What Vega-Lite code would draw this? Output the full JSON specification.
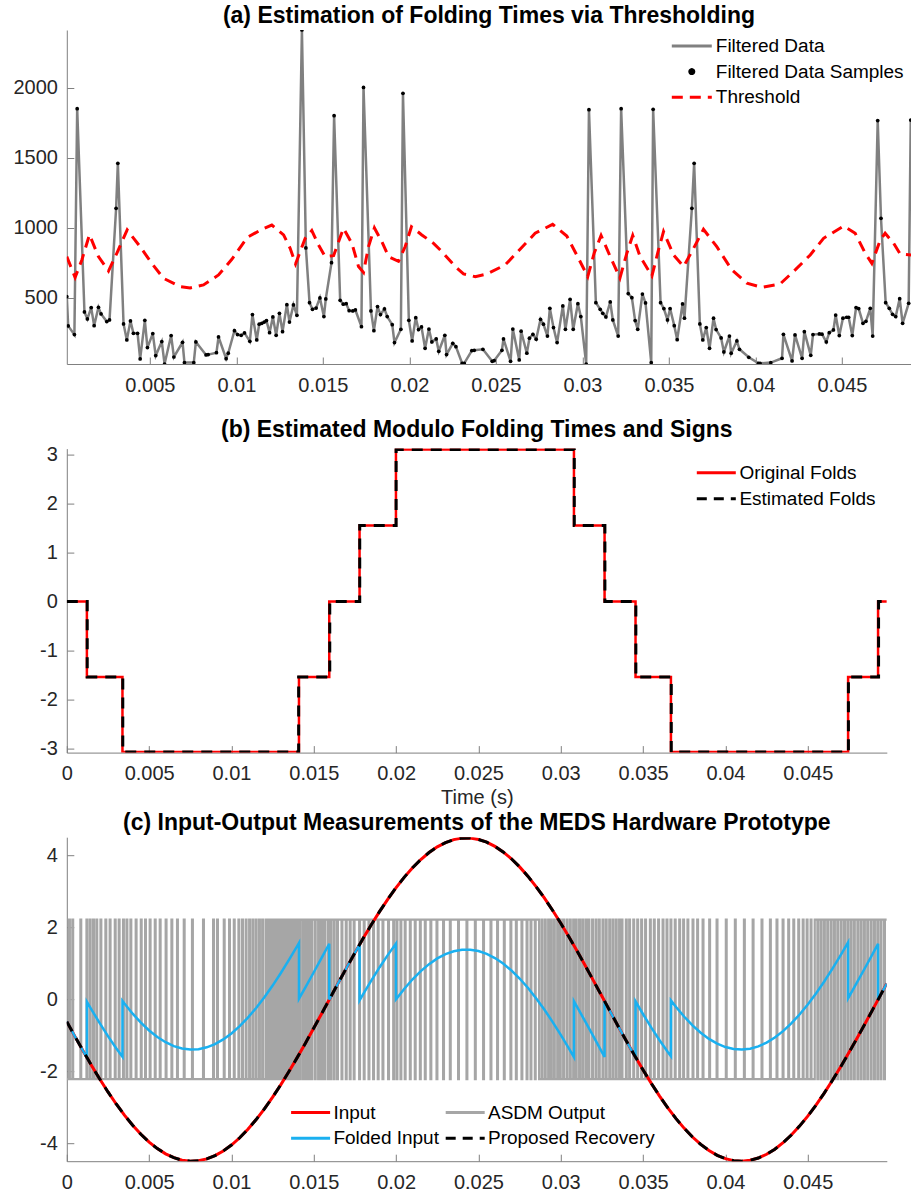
{
"$schema": "https://vega.github.io/schema/vega-lite/v6.json",
"background": "white",
"padding": {"left": 12.8, "top": 5, "right": 0, "bottom": 0},
"spacing": 84.6,
"bounds": "flush",
"resolve": {"scale": {"color": "independent"}},
"config": {
  "font": "Liberation Sans",
  "view": {"stroke": null},
  "axis": {"grid": false, "domainColor": "#808080", "domainWidth": 1, "tickColor": "#808080", "tickWidth": 1, "tickSize": -7, "labelFontSize": 20, "labelColor": "#262626", "labelFlush": false, "labelOverlap": false, "titleFontSize": 20, "titleFontWeight": "normal", "titleColor": "#262626"},
  "axisX": {"labelPadding": 18},
  "axisY": {"labelPadding": 16.4},
  "title": {"fontSize": 23, "fontWeight": "bold", "color": "#000000", "offset": 2},
  "legend": {"labelFontSize": 19, "labelColor": "#000000", "padding": 0, "symbolStrokeWidth": 3, "labelLimit": 0}
},
"datasets": {
"fd": [{"t":0.0002,"v":507},{"t":0.00028,"v":298},{"t":0.00064,"v":236},{"t":0.0008,"v":1850},{"t":0.00122,"v":398},{"t":0.00139,"v":348},{"t":0.00161,"v":429},{"t":0.00178,"v":300},{"t":0.00203,"v":431},{"t":0.00218,"v":384},{"t":0.00251,"v":329},{"t":0.00267,"v":341},{"t":0.00305,"v":1138},{"t":0.00315,"v":1460},{"t":0.00348,"v":312},{"t":0.00367,"v":198},{"t":0.00388,"v":334},{"t":0.00405,"v":245},{"t":0.00429,"v":245},{"t":0.00444,"v":62},{"t":0.00471,"v":338},{"t":0.00486,"v":143},{"t":0.00517,"v":243},{"t":0.00534,"v":86},{"t":0.00569,"v":186},{"t":0.00585,"v":26},{"t":0.00623,"v":229},{"t":0.00639,"v":76},{"t":0.00689,"v":181},{"t":0.007,"v":36},{"t":0.00754,"v":36},{"t":0.00766,"v":184},{"t":0.00825,"v":91},{"t":0.00837,"v":93},{"t":0.00885,"v":107},{"t":0.00897,"v":219},{"t":0.00941,"v":64},{"t":0.00953,"v":103},{"t":0.00989,"v":264},{"t":0.01007,"v":236},{"t":0.01028,"v":231},{"t":0.01047,"v":248},{"t":0.01078,"v":188},{"t":0.01093,"v":379},{"t":0.01118,"v":198},{"t":0.01132,"v":310},{"t":0.01147,"v":317},{"t":0.01161,"v":326},{"t":0.01174,"v":336},{"t":0.01192,"v":250},{"t":0.01211,"v":362},{"t":0.0123,"v":231},{"t":0.01249,"v":388},{"t":0.01267,"v":257},{"t":0.01292,"v":450},{"t":0.01307,"v":326},{"t":0.0133,"v":448},{"t":0.0135,"v":374},{"t":0.01379,"v":2412},{"t":0.01402,"v":855},{"t":0.01423,"v":464},{"t":0.0144,"v":417},{"t":0.01461,"v":426},{"t":0.01483,"v":498},{"t":0.01506,"v":365},{"t":0.01517,"v":491},{"t":0.0155,"v":750},{"t":0.01565,"v":1800},{"t":0.016,"v":481},{"t":0.01618,"v":453},{"t":0.01635,"v":457},{"t":0.01652,"v":407},{"t":0.01673,"v":405},{"t":0.01688,"v":412},{"t":0.01723,"v":293},{"t":0.01735,"v":2002},{"t":0.01778,"v":405},{"t":0.01795,"v":264},{"t":0.01816,"v":436},{"t":0.01833,"v":379},{"t":0.01856,"v":419},{"t":0.01872,"v":365},{"t":0.01901,"v":307},{"t":0.01914,"v":179},{"t":0.01951,"v":274},{"t":0.01963,"v":1960},{"t":0.01997,"v":338},{"t":0.02016,"v":191},{"t":0.02037,"v":357},{"t":0.02053,"v":272},{"t":0.0207,"v":291},{"t":0.02091,"v":138},{"t":0.02113,"v":276},{"t":0.0213,"v":184},{"t":0.02155,"v":205},{"t":0.0217,"v":117},{"t":0.02205,"v":231},{"t":0.02215,"v":93},{"t":0.02251,"v":174},{"t":0.02269,"v":150},{"t":0.02305,"v":31},{"t":0.02317,"v":31},{"t":0.02361,"v":122},{"t":0.02375,"v":124},{"t":0.02425,"v":131},{"t":0.02479,"v":45},{"t":0.0249,"v":50},{"t":0.02535,"v":124},{"t":0.02544,"v":205},{"t":0.02585,"v":45},{"t":0.02598,"v":276},{"t":0.02635,"v":55},{"t":0.02646,"v":260},{"t":0.02679,"v":103},{"t":0.02694,"v":210},{"t":0.02714,"v":238},{"t":0.02733,"v":203},{"t":0.02758,"v":345},{"t":0.02775,"v":310},{"t":0.02798,"v":226},{"t":0.02812,"v":424},{"t":0.02833,"v":286},{"t":0.02854,"v":179},{"t":0.02887,"v":441},{"t":0.02902,"v":274},{"t":0.02929,"v":488},{"t":0.02947,"v":274},{"t":0.02974,"v":457},{"t":0.02991,"v":365},{"t":0.03022,"v":26},{"t":0.03038,"v":1843},{"t":0.03078,"v":464},{"t":0.03103,"v":417},{"t":0.03118,"v":388},{"t":0.03136,"v":362},{"t":0.03161,"v":469},{"t":0.03176,"v":341},{"t":0.03207,"v":226},{"t":0.03224,"v":1850},{"t":0.03265,"v":529},{"t":0.03286,"v":500},{"t":0.03305,"v":336},{"t":0.0332,"v":274},{"t":0.03347,"v":526},{"t":0.03365,"v":462},{"t":0.03398,"v":36},{"t":0.03409,"v":1845},{"t":0.03452,"v":464},{"t":0.03471,"v":422},{"t":0.03492,"v":341},{"t":0.03507,"v":422},{"t":0.03531,"v":300},{"t":0.03548,"v":200},{"t":0.03579,"v":455},{"t":0.0359,"v":353},{"t":0.03633,"v":1138},{"t":0.03646,"v":1460},{"t":0.03679,"v":312},{"t":0.03696,"v":198},{"t":0.03716,"v":286},{"t":0.03735,"v":138},{"t":0.03758,"v":353},{"t":0.03773,"v":272},{"t":0.03802,"v":212},{"t":0.03818,"v":112},{"t":0.0385,"v":226},{"t":0.0386,"v":103},{"t":0.03893,"v":191},{"t":0.03908,"v":131},{"t":0.03962,"v":74},{"t":0.04018,"v":31},{"t":0.04027,"v":31},{"t":0.04089,"v":36},{"t":0.04154,"v":67},{"t":0.04162,"v":238},{"t":0.04212,"v":48},{"t":0.04229,"v":234},{"t":0.0427,"v":67},{"t":0.04283,"v":257},{"t":0.0432,"v":88},{"t":0.04333,"v":236},{"t":0.0437,"v":241},{"t":0.04385,"v":239},{"t":0.0441,"v":184},{"t":0.04427,"v":250},{"t":0.04451,"v":269},{"t":0.04464,"v":376},{"t":0.04485,"v":229},{"t":0.04506,"v":353},{"t":0.04528,"v":360},{"t":0.04539,"v":360},{"t":0.0456,"v":229},{"t":0.04582,"v":429},{"t":0.04597,"v":422},{"t":0.04622,"v":317},{"t":0.04639,"v":331},{"t":0.04664,"v":424},{"t":0.04678,"v":226},{"t":0.04707,"v":1765},{"t":0.04726,"v":1067},{"t":0.04753,"v":464},{"t":0.04774,"v":424},{"t":0.04793,"v":381},{"t":0.04811,"v":365},{"t":0.04834,"v":493},{"t":0.04851,"v":317},{"t":0.04886,"v":460},{"t":0.04898,"v":1769}],
"th": [{"t":0.0002,"v":793},{"t":0.00068,"v":645},{"t":0.00107,"v":769},{"t":0.00151,"v":950},{"t":0.00203,"v":793},{"t":0.00261,"v":690},{"t":0.00309,"v":817},{"t":0.00369,"v":984},{"t":0.00444,"v":864},{"t":0.00511,"v":745},{"t":0.00579,"v":638},{"t":0.00675,"v":579},{"t":0.00733,"v":569},{"t":0.0081,"v":591},{"t":0.00897,"v":662},{"t":0.00974,"v":774},{"t":0.01064,"v":931},{"t":0.01147,"v":988},{"t":0.01205,"v":1019},{"t":0.01273,"v":948},{"t":0.01311,"v":853},{"t":0.01342,"v":741},{"t":0.01369,"v":829},{"t":0.01398,"v":924},{"t":0.01436,"v":979},{"t":0.01475,"v":876},{"t":0.01513,"v":793},{"t":0.01562,"v":800},{"t":0.01619,"v":995},{"t":0.01668,"v":888},{"t":0.01706,"v":722},{"t":0.01735,"v":680},{"t":0.01764,"v":865},{"t":0.01798,"v":998},{"t":0.01841,"v":900},{"t":0.0188,"v":793},{"t":0.01937,"v":760},{"t":0.01976,"v":865},{"t":0.02012,"v":1007},{"t":0.02072,"v":948},{"t":0.0214,"v":888},{"t":0.02188,"v":829},{"t":0.02265,"v":722},{"t":0.02313,"v":669},{"t":0.02381,"v":650},{"t":0.02448,"v":669},{"t":0.02554,"v":734},{"t":0.0264,"v":846},{"t":0.02727,"v":960},{"t":0.02828,"v":1024},{"t":0.0291,"v":940},{"t":0.02978,"v":780},{"t":0.03031,"v":650},{"t":0.03068,"v":817},{"t":0.03108,"v":945},{"t":0.03161,"v":793},{"t":0.03217,"v":640},{"t":0.03257,"v":817},{"t":0.03291,"v":945},{"t":0.03334,"v":793},{"t":0.03402,"v":655},{"t":0.0344,"v":841},{"t":0.03469,"v":972},{"t":0.03527,"v":805},{"t":0.03585,"v":722},{"t":0.03643,"v":853},{"t":0.037,"v":988},{"t":0.03777,"v":864},{"t":0.03864,"v":698},{"t":0.03951,"v":603},{"t":0.04037,"v":574},{"t":0.04143,"v":598},{"t":0.0423,"v":698},{"t":0.04317,"v":805},{"t":0.04394,"v":924},{"t":0.0451,"v":1012},{"t":0.04577,"v":960},{"t":0.04635,"v":817},{"t":0.04673,"v":745},{"t":0.04722,"v":912},{"t":0.0475,"v":960},{"t":0.04799,"v":888},{"t":0.04837,"v":812},{"t":0.049,"v":805}],
"orig": [{"t":0,"v":0},{"t":0.00122,"v":-1.54},{"t":0.00338,"v":-3.07},{"t":0.0141,"v":-1.54},{"t":0.01594,"v":0},{"t":0.01778,"v":1.55},{"t":0.01999,"v":3.1},{"t":0.0308,"v":1.55},{"t":0.03266,"v":0},{"t":0.03454,"v":-1.54},{"t":0.03669,"v":-3.07},{"t":0.04745,"v":-1.54},{"t":0.04927,"v":0},{"t":0.0498,"v":0}],
"est": [{"t":0,"v":0},{"t":0.00124,"v":-1.54},{"t":0.0034,"v":-3.07},{"t":0.01408,"v":-1.54},{"t":0.01597,"v":0},{"t":0.01779,"v":1.55},{"t":0.02,"v":3.1},{"t":0.03082,"v":1.55},{"t":0.03268,"v":0},{"t":0.03456,"v":-1.54},{"t":0.03671,"v":-3.07},{"t":0.04747,"v":-1.54},{"t":0.0493,"v":0},{"t":0.0499,"v":0}],
"sine": [{"t":0,"v":-0.613},{"t":0.0005,"v":-1.029},{"t":0.001,"v":-1.436},{"t":0.0015,"v":-1.83},{"t":0.002,"v":-2.207},{"t":0.0025,"v":-2.566},{"t":0.003,"v":-2.901},{"t":0.0035,"v":-3.211},{"t":0.004,"v":-3.492},{"t":0.0045,"v":-3.742},{"t":0.005,"v":-3.959},{"t":0.0055,"v":-4.141},{"t":0.006,"v":-4.286},{"t":0.0065,"v":-4.393},{"t":0.007,"v":-4.461},{"t":0.0075,"v":-4.489},{"t":0.008,"v":-4.478},{"t":0.0085,"v":-4.426},{"t":0.009,"v":-4.336},{"t":0.0095,"v":-4.207},{"t":0.01,"v":-4.041},{"t":0.0105,"v":-3.839},{"t":0.011,"v":-3.601},{"t":0.0115,"v":-3.333},{"t":0.012,"v":-3.037},{"t":0.0125,"v":-2.712},{"t":0.013,"v":-2.363},{"t":0.0135,"v":-1.993},{"t":0.014,"v":-1.606},{"t":0.0145,"v":-1.204},{"t":0.015,"v":-0.791},{"t":0.0155,"v":-0.372},{"t":0.016,"v":0.051},{"t":0.0165,"v":0.473},{"t":0.017,"v":0.891},{"t":0.0175,"v":1.301},{"t":0.018,"v":1.7},{"t":0.0185,"v":2.083},{"t":0.019,"v":2.449},{"t":0.0195,"v":2.792},{"t":0.02,"v":3.11},{"t":0.0205,"v":3.402},{"t":0.021,"v":3.663},{"t":0.0215,"v":3.891},{"t":0.022,"v":4.084},{"t":0.0225,"v":4.242},{"t":0.023,"v":4.361},{"t":0.0235,"v":4.442},{"t":0.024,"v":4.484},{"t":0.0245,"v":4.486},{"t":0.025,"v":4.448},{"t":0.0255,"v":4.371},{"t":0.026,"v":4.254},{"t":0.0265,"v":4.1},{"t":0.027,"v":3.91},{"t":0.0275,"v":3.685},{"t":0.028,"v":3.427},{"t":0.0285,"v":3.138},{"t":0.029,"v":2.822},{"t":0.0295,"v":2.481},{"t":0.03,"v":2.118},{"t":0.0305,"v":1.736},{"t":0.031,"v":1.339},{"t":0.0315,"v":0.93},{"t":0.032,"v":0.512},{"t":0.0325,"v":0.09},{"t":0.033,"v":-0.333},{"t":0.0335,"v":-0.753},{"t":0.034,"v":-1.166},{"t":0.0345,"v":-1.569},{"t":0.035,"v":-1.958},{"t":0.0355,"v":-2.329},{"t":0.036,"v":-2.68},{"t":0.0365,"v":-3.007},{"t":0.037,"v":-3.307},{"t":0.0375,"v":-3.578},{"t":0.038,"v":-3.818},{"t":0.0385,"v":-4.023},{"t":0.039,"v":-4.193},{"t":0.0395,"v":-4.326},{"t":0.04,"v":-4.42},{"t":0.0405,"v":-4.475},{"t":0.041,"v":-4.49},{"t":0.0415,"v":-4.465},{"t":0.042,"v":-4.401},{"t":0.0425,"v":-4.297},{"t":0.043,"v":-4.156},{"t":0.0435,"v":-3.977},{"t":0.044,"v":-3.763},{"t":0.0445,"v":-3.516},{"t":0.045,"v":-3.239},{"t":0.0455,"v":-2.931},{"t":0.046,"v":-2.598},{"t":0.0465,"v":-2.241},{"t":0.047,"v":-1.866},{"t":0.0475,"v":-1.473},{"t":0.048,"v":-1.067},{"t":0.0485,"v":-0.652},{"t":0.049,"v":-0.231},{"t":0.0495,"v":0.192},{"t":0.0498,"v":0.445}],
"fold": [{"t":0,"v":-0.613},{"t":0.0005,"v":-1.029},{"t":0.001,"v":-1.436},{"t":0.00122,"v":-1.611},{"t":0.001221,"v":-0.061},{"t":0.0015,"v":-0.28},{"t":0.002,"v":-0.657},{"t":0.0025,"v":-1.016},{"t":0.003,"v":-1.351},{"t":0.00338,"v":-1.588},{"t":0.003381,"v":-0.038},{"t":0.0035,"v":-0.111},{"t":0.004,"v":-0.392},{"t":0.0045,"v":-0.642},{"t":0.005,"v":-0.859},{"t":0.0055,"v":-1.041},{"t":0.006,"v":-1.186},{"t":0.0065,"v":-1.293},{"t":0.007,"v":-1.361},{"t":0.0075,"v":-1.389},{"t":0.008,"v":-1.378},{"t":0.0085,"v":-1.326},{"t":0.009,"v":-1.236},{"t":0.0095,"v":-1.107},{"t":0.01,"v":-0.941},{"t":0.0105,"v":-0.739},{"t":0.011,"v":-0.501},{"t":0.0115,"v":-0.233},{"t":0.012,"v":0.063},{"t":0.0125,"v":0.388},{"t":0.013,"v":0.737},{"t":0.0135,"v":1.107},{"t":0.014,"v":1.494},{"t":0.0141,"v":1.574},{"t":0.014101,"v":0.024},{"t":0.0145,"v":0.346},{"t":0.015,"v":0.759},{"t":0.0155,"v":1.178},{"t":0.01594,"v":1.55},{"t":0.015941,"v":0},{"t":0.016,"v":0.051},{"t":0.0165,"v":0.473},{"t":0.017,"v":0.891},{"t":0.0175,"v":1.301},{"t":0.01778,"v":1.526},{"t":0.017781,"v":-0.024},{"t":0.018,"v":0.15},{"t":0.0185,"v":0.533},{"t":0.019,"v":0.899},{"t":0.0195,"v":1.242},{"t":0.01999,"v":1.555},{"t":0.019991,"v":0.005},{"t":0.02,"v":0.01},{"t":0.0205,"v":0.302},{"t":0.021,"v":0.563},{"t":0.0215,"v":0.791},{"t":0.022,"v":0.984},{"t":0.0225,"v":1.142},{"t":0.023,"v":1.261},{"t":0.0235,"v":1.342},{"t":0.024,"v":1.384},{"t":0.0245,"v":1.386},{"t":0.025,"v":1.348},{"t":0.0255,"v":1.271},{"t":0.026,"v":1.154},{"t":0.0265,"v":1.0},{"t":0.027,"v":0.81},{"t":0.0275,"v":0.585},{"t":0.028,"v":0.327},{"t":0.0285,"v":0.038},{"t":0.029,"v":-0.278},{"t":0.0295,"v":-0.619},{"t":0.03,"v":-0.982},{"t":0.0305,"v":-1.364},{"t":0.0308,"v":-1.6},{"t":0.030801,"v":-0.05},{"t":0.031,"v":-0.211},{"t":0.0315,"v":-0.62},{"t":0.032,"v":-1.038},{"t":0.0325,"v":-1.46},{"t":0.03266,"v":-1.595},{"t":0.032661,"v":-0.045},{"t":0.033,"v":-0.333},{"t":0.0335,"v":-0.753},{"t":0.034,"v":-1.166},{"t":0.0345,"v":-1.569},{"t":0.03454,"v":-1.6},{"t":0.034541,"v":-0.05},{"t":0.035,"v":-0.408},{"t":0.0355,"v":-0.779},{"t":0.036,"v":-1.13},{"t":0.0365,"v":-1.457},{"t":0.03669,"v":-1.575},{"t":0.036691,"v":-0.025},{"t":0.037,"v":-0.207},{"t":0.0375,"v":-0.478},{"t":0.038,"v":-0.718},{"t":0.0385,"v":-0.923},{"t":0.039,"v":-1.093},{"t":0.0395,"v":-1.226},{"t":0.04,"v":-1.32},{"t":0.0405,"v":-1.375},{"t":0.041,"v":-1.39},{"t":0.0415,"v":-1.365},{"t":0.042,"v":-1.301},{"t":0.0425,"v":-1.197},{"t":0.043,"v":-1.056},{"t":0.0435,"v":-0.877},{"t":0.044,"v":-0.663},{"t":0.0445,"v":-0.416},{"t":0.045,"v":-0.139},{"t":0.0455,"v":0.169},{"t":0.046,"v":0.502},{"t":0.0465,"v":0.859},{"t":0.047,"v":1.234},{"t":0.04745,"v":1.587},{"t":0.047451,"v":0.037},{"t":0.0475,"v":0.077},{"t":0.048,"v":0.483},{"t":0.0485,"v":0.898},{"t":0.049,"v":1.319},{"t":0.04927,"v":1.55},{"t":0.049271,"v":0},{"t":0.0495,"v":0.192},{"t":0.0498,"v":0.445}],
"asdm": [{"t":0,"v":-2.21},
{"t":0.000135,"v":2.22},{"t":0.000185,"v":-2.21},{"t":0.000335,"v":2.22},{"t":0.000385,"v":-2.21},{"t":0.000825,"v":2.22},{"t":0.000875,"v":-2.21},{"t":0.001195,"v":2.22},{"t":0.001245,"v":-2.21},{"t":0.001395,"v":2.22},{"t":0.001445,"v":-2.21},{"t":0.001595,"v":2.22},{"t":0.001645,"v":-2.21},{"t":0.001795,"v":2.22},{"t":0.001845,"v":-2.21},{"t":0.002045,"v":2.22},{"t":0.002095,"v":-2.21},{"t":0.002345,"v":2.22},{"t":0.002395,"v":-2.21},{"t":0.002605,"v":2.22},{"t":0.002655,"v":-2.21},{"t":0.002915,"v":2.22},{"t":0.002965,"v":-2.21},{"t":0.003155,"v":2.22},{"t":0.003205,"v":-2.21},{"t":0.003415,"v":2.22},{"t":0.003465,"v":-2.21},{"t":0.003625,"v":2.22},{"t":0.003675,"v":-2.21},{"t":0.003865,"v":2.22},{"t":0.003915,"v":-2.21},{"t":0.004185,"v":2.22},{"t":0.004235,"v":-2.21},{"t":0.004495,"v":2.22},{"t":0.004545,"v":-2.21},{"t":0.004755,"v":2.22},{"t":0.004805,"v":-2.21},{"t":0.005035,"v":2.22},{"t":0.005085,"v":-2.21},{"t":0.005345,"v":2.22},{"t":0.005395,"v":-2.21},{"t":0.005645,"v":2.22},{"t":0.005695,"v":-2.21},{"t":0.006005,"v":2.22},{"t":0.006055,"v":-2.21},{"t":0.006355,"v":2.22},{"t":0.006405,"v":-2.21},{"t":0.006695,"v":2.22},{"t":0.006745,"v":-2.21},{"t":0.007105,"v":2.22},{"t":0.007155,"v":-2.21},{"t":0.007605,"v":2.22},{"t":0.007655,"v":-2.21},{"t":0.008275,"v":2.22},{"t":0.008325,"v":-2.21},{"t":0.008885,"v":2.22},{"t":0.008935,"v":-2.21},{"t":0.009125,"v":2.22},{"t":0.009175,"v":-2.21},{"t":0.009535,"v":2.22},{"t":0.009585,"v":-2.21},{"t":0.009855,"v":2.22},{"t":0.009905,"v":-2.21},{"t":0.010145,"v":2.22},{"t":0.010195,"v":-2.21},{"t":0.010425,"v":2.22},{"t":0.010475,"v":-2.21},{"t":0.010645,"v":2.22},{"t":0.010695,"v":-2.21},{"t":0.010865,"v":2.22},{"t":0.010915,"v":-2.21},{"t":0.011075,"v":2.22},{"t":0.011125,"v":-2.21},{"t":0.011275,"v":2.22},{"t":0.011325,"v":-2.21},{"t":0.011475,"v":2.22},{"t":0.011525,"v":-2.21},{"t":0.011675,"v":2.22},{"t":0.011725,"v":-2.21},{"t":0.011865,"v":2.22},{"t":0.011915,"v":-2.21},
{"t":0.012025,"v":-2.21},{"t":0.012075,"v":2.22},{"t":0.012165,"v":-2.21},{"t":0.012215,"v":2.22},{"t":0.012305,"v":-2.21},{"t":0.012355,"v":2.22},{"t":0.012465,"v":-2.21},{"t":0.012515,"v":2.22},{"t":0.012635,"v":-2.21},{"t":0.012685,"v":2.22},{"t":0.012795,"v":-2.21},{"t":0.012845,"v":2.22},{"t":0.012935,"v":-2.21},{"t":0.012985,"v":2.22},{"t":0.013095,"v":-2.21},{"t":0.013145,"v":2.22},{"t":0.013275,"v":-2.21},{"t":0.013325,"v":2.22},{"t":0.013445,"v":-2.21},{"t":0.013495,"v":2.22},{"t":0.013605,"v":-2.21},{"t":0.013655,"v":2.22},{"t":0.013785,"v":-2.21},{"t":0.013835,"v":2.22},{"t":0.013945,"v":-2.21},{"t":0.013995,"v":2.22},{"t":0.014125,"v":-2.21},{"t":0.014175,"v":2.22},{"t":0.014315,"v":-2.21},{"t":0.014365,"v":2.22},{"t":0.014495,"v":-2.21},{"t":0.014545,"v":2.22},{"t":0.014675,"v":-2.21},{"t":0.014725,"v":2.22},{"t":0.014855,"v":-2.21},{"t":0.014905,"v":2.22},{"t":0.015065,"v":-2.21},{"t":0.015115,"v":2.22},{"t":0.015265,"v":-2.21},{"t":0.015315,"v":2.22},{"t":0.015445,"v":-2.21},{"t":0.015495,"v":2.22},{"t":0.015625,"v":-2.21},{"t":0.015675,"v":2.22},{"t":0.015835,"v":-2.21},{"t":0.015885,"v":2.22},{"t":0.016015,"v":-2.21},{"t":0.016065,"v":2.22},{"t":0.016215,"v":-2.21},{"t":0.016265,"v":2.22},{"t":0.016415,"v":-2.21},{"t":0.016465,"v":2.22},{"t":0.016685,"v":-2.21},{"t":0.016735,"v":2.22},{"t":0.016945,"v":-2.21},{"t":0.016995,"v":2.22},{"t":0.017185,"v":-2.21},{"t":0.017235,"v":2.22},{"t":0.017425,"v":-2.21},{"t":0.017475,"v":2.22},{"t":0.017755,"v":-2.21},{"t":0.017805,"v":2.22},{"t":0.018035,"v":-2.21},{"t":0.018085,"v":2.22},{"t":0.018325,"v":-2.21},{"t":0.018375,"v":2.22},{"t":0.018605,"v":-2.21},{"t":0.018655,"v":2.22},{"t":0.018885,"v":-2.21},{"t":0.018935,"v":2.22},{"t":0.019175,"v":-2.21},{"t":0.019225,"v":2.22},{"t":0.019515,"v":-2.21},{"t":0.019565,"v":2.22},{"t":0.019825,"v":-2.21},{"t":0.019875,"v":2.22},{"t":0.020025,"v":-2.21},{"t":0.020075,"v":2.22},{"t":0.020265,"v":-2.21},{"t":0.020315,"v":2.22},{"t":0.020525,"v":-2.21},{"t":0.020575,"v":2.22},{"t":0.020835,"v":-2.21},{"t":0.020885,"v":2.22},{"t":0.021135,"v":-2.21},{"t":0.021185,"v":2.22},{"t":0.021445,"v":-2.21},{"t":0.021495,"v":2.22},{"t":0.021745,"v":-2.21},{"t":0.021795,"v":2.22},{"t":0.022085,"v":-2.21},{"t":0.022135,"v":2.22},{"t":0.022455,"v":-2.21},{"t":0.022505,"v":2.22},{"t":0.022855,"v":-2.21},{"t":0.022905,"v":2.22},{"t":0.023265,"v":-2.21},{"t":0.023315,"v":2.22},{"t":0.023765,"v":-2.21},{"t":0.023815,"v":2.22},{"t":0.024275,"v":-2.21},{"t":0.024325,"v":2.22},{"t":0.024785,"v":-2.21},{"t":0.024835,"v":2.22},{"t":0.025285,"v":-2.21},{"t":0.025335,"v":2.22},{"t":0.025735,"v":-2.21},{"t":0.025785,"v":2.22},{"t":0.026135,"v":-2.21},{"t":0.026185,"v":2.22},{"t":0.026545,"v":-2.21},{"t":0.026595,"v":2.22},{"t":0.026945,"v":-2.21},{"t":0.026995,"v":2.22},{"t":0.027275,"v":-2.21},{"t":0.027325,"v":2.22},{"t":0.027615,"v":-2.21},{"t":0.027665,"v":2.22},{"t":0.027925,"v":-2.21},{"t":0.027975,"v":2.22},{"t":0.028165,"v":-2.21},{"t":0.028215,"v":2.22},{"t":0.028425,"v":-2.21},{"t":0.028475,"v":2.22},
{"t":0.028635,"v":2.22},{"t":0.028685,"v":-2.21},{"t":0.028835,"v":2.22},{"t":0.028885,"v":-2.21},{"t":0.029035,"v":2.22},{"t":0.029085,"v":-2.21},{"t":0.029235,"v":2.22},{"t":0.029285,"v":-2.21},{"t":0.029395,"v":2.22},{"t":0.029445,"v":-2.21},{"t":0.029585,"v":2.22},{"t":0.029635,"v":-2.21},{"t":0.029785,"v":2.22},{"t":0.029835,"v":-2.21},{"t":0.029945,"v":2.22},{"t":0.029995,"v":-2.21},{"t":0.030145,"v":2.22},{"t":0.030195,"v":-2.21},{"t":0.030355,"v":2.22},{"t":0.030405,"v":-2.21},{"t":0.030555,"v":2.22},{"t":0.030605,"v":-2.21},{"t":0.030755,"v":2.22},{"t":0.030805,"v":-2.21},{"t":0.030915,"v":2.22},{"t":0.030965,"v":-2.21},{"t":0.031115,"v":2.22},{"t":0.031165,"v":-2.21},{"t":0.031305,"v":2.22},{"t":0.031355,"v":-2.21},{"t":0.031505,"v":2.22},{"t":0.031555,"v":-2.21},{"t":0.031685,"v":2.22},{"t":0.031735,"v":-2.21},{"t":0.031905,"v":2.22},{"t":0.031955,"v":-2.21},{"t":0.032115,"v":2.22},{"t":0.032165,"v":-2.21},{"t":0.032315,"v":2.22},{"t":0.032365,"v":-2.21},{"t":0.032535,"v":2.22},{"t":0.032585,"v":-2.21},{"t":0.032735,"v":2.22},{"t":0.032785,"v":-2.21},{"t":0.032945,"v":2.22},{"t":0.032995,"v":-2.21},{"t":0.033145,"v":2.22},{"t":0.033195,"v":-2.21},{"t":0.033345,"v":2.22},{"t":0.033395,"v":-2.21},{"t":0.033545,"v":2.22},{"t":0.033595,"v":-2.21},{"t":0.033695,"v":2.22},{"t":0.033745,"v":-2.21},{"t":0.033955,"v":2.22},{"t":0.034005,"v":-2.21},{"t":0.034155,"v":2.22},{"t":0.034205,"v":-2.21},{"t":0.034405,"v":2.22},{"t":0.034455,"v":-2.21},{"t":0.034645,"v":2.22},{"t":0.034695,"v":-2.21},{"t":0.034885,"v":2.22},{"t":0.034935,"v":-2.21},{"t":0.035125,"v":2.22},{"t":0.035175,"v":-2.21},{"t":0.035415,"v":2.22},{"t":0.035465,"v":-2.21},{"t":0.035655,"v":2.22},{"t":0.035705,"v":-2.21},{"t":0.035915,"v":2.22},{"t":0.035965,"v":-2.21},{"t":0.036185,"v":2.22},{"t":0.036235,"v":-2.21},{"t":0.036425,"v":2.22},{"t":0.036475,"v":-2.21},{"t":0.036665,"v":2.22},{"t":0.036715,"v":-2.21},{"t":0.036925,"v":2.22},{"t":0.036975,"v":-2.21},{"t":0.037195,"v":2.22},{"t":0.037245,"v":-2.21},{"t":0.037435,"v":2.22},{"t":0.037485,"v":-2.21},{"t":0.037695,"v":2.22},{"t":0.037745,"v":-2.21},{"t":0.038005,"v":2.22},{"t":0.038055,"v":-2.21},{"t":0.038285,"v":2.22},{"t":0.038335,"v":-2.21},{"t":0.038615,"v":2.22},{"t":0.038665,"v":-2.21},{"t":0.039015,"v":2.22},{"t":0.039065,"v":-2.21},{"t":0.039465,"v":2.22},{"t":0.039515,"v":-2.21},{"t":0.040025,"v":2.22},{"t":0.040075,"v":-2.21},{"t":0.040575,"v":2.22},{"t":0.040625,"v":-2.21},{"t":0.041125,"v":2.22},{"t":0.041175,"v":-2.21},{"t":0.041655,"v":2.22},{"t":0.041705,"v":-2.21},{"t":0.042195,"v":2.22},{"t":0.042245,"v":-2.21},{"t":0.042705,"v":2.22},{"t":0.042755,"v":-2.21},{"t":0.043105,"v":2.22},{"t":0.043155,"v":-2.21},{"t":0.043475,"v":2.22},{"t":0.043525,"v":-2.21},{"t":0.043815,"v":2.22},{"t":0.043865,"v":-2.21},{"t":0.044125,"v":2.22},{"t":0.044175,"v":-2.21},{"t":0.044425,"v":2.22},{"t":0.044475,"v":-2.21},{"t":0.044695,"v":2.22},{"t":0.044745,"v":-2.21},{"t":0.044935,"v":2.22},{"t":0.044985,"v":-2.21},{"t":0.045175,"v":2.22},{"t":0.045225,"v":-2.21},
{"t":0.045375,"v":-2.21},{"t":0.045425,"v":2.22},{"t":0.045585,"v":-2.21},{"t":0.045635,"v":2.22},{"t":0.045785,"v":-2.21},{"t":0.045835,"v":2.22},{"t":0.045985,"v":-2.21},{"t":0.046035,"v":2.22},{"t":0.046185,"v":-2.21},{"t":0.046235,"v":2.22},{"t":0.046395,"v":-2.21},{"t":0.046445,"v":2.22},{"t":0.046595,"v":-2.21},{"t":0.046645,"v":2.22},{"t":0.046795,"v":-2.21},{"t":0.046845,"v":2.22},{"t":0.047005,"v":-2.21},{"t":0.047055,"v":2.22},{"t":0.047205,"v":-2.21},{"t":0.047255,"v":2.22},{"t":0.047405,"v":-2.21},{"t":0.047455,"v":2.22},{"t":0.047605,"v":-2.21},{"t":0.047655,"v":2.22},{"t":0.047805,"v":-2.21},{"t":0.047855,"v":2.22},{"t":0.048015,"v":-2.21},{"t":0.048065,"v":2.22},{"t":0.048215,"v":-2.21},{"t":0.048265,"v":2.22},{"t":0.048415,"v":-2.21},{"t":0.048465,"v":2.22},{"t":0.048615,"v":-2.21},{"t":0.048665,"v":2.22},{"t":0.048825,"v":-2.21},{"t":0.048875,"v":2.22},{"t":0.049025,"v":-2.21},{"t":0.049075,"v":2.22},{"t":0.049225,"v":-2.21},{"t":0.049275,"v":2.22},{"t":0.049425,"v":-2.21},{"t":0.049475,"v":2.22},{"t":0.049635,"v":-2.21},{"t":0.049685,"v":2.22},{"t":0.0498,"v":2.22}]
},
"vconcat": [
{
  "width": 844.3, "height": 334,
  "title": "(a) Estimation of Folding Times via Thresholding",
  "encoding": {
    "x": {"field": "t", "type": "quantitative", "scale": {"domain": [0.0002, 0.049], "nice": false, "zero": false}, "axis": {"title": null, "values": [0.005,0.01,0.015,0.02,0.025,0.03,0.035,0.04,0.045], "labelExpr": "'' + datum.value"}},
    "y": {"field": "v", "type": "quantitative", "scale": {"domain": [26, 2412], "nice": false, "zero": false}, "axis": {"title": null, "values": [500,1000,1500,2000], "labelExpr": "'' + datum.value"}}
  },
  "layer": [
    {"data": {"name": "fd"}, "mark": {"type": "line", "strokeWidth": 2.5, "clip": true},
     "encoding": {"color": {"datum": "Filtered Data", "type": "nominal",
       "scale": {"domain": ["Filtered Data", "Filtered Data Samples", "Threshold"], "range": ["#808080", "#000000", "#ff0000"]},
       "legend": {"orient": "none", "legendX": 603.5, "legendY": 6.5, "title": null, "symbolType": "stroke", "symbolSize": 1600, "symbolStrokeWidth": 3, "labelOffset": 2.5, "clipHeight": 19, "rowPadding": 5.6,
         "encode": {"symbols": {"update": {
           "shape": {"signal": "datum.value === 'Filtered Data Samples' ? 'circle' : 'stroke'"},
           "size": {"signal": "datum.value === 'Filtered Data Samples' ? 16 : 1600"},
           "fill": {"signal": "datum.value === 'Filtered Data Samples' ? '#000000' : 'transparent'"},
           "stroke": {"signal": "datum.value === 'Threshold' ? '#ff0000' : (datum.value === 'Filtered Data' ? '#808080' : 'transparent')"},
           "strokeDash": {"signal": "datum.value === 'Threshold' ? [11, 7] : [1, 0]"},
           "strokeWidth": {"value": 3},
           "opacity": {"value": 1}}}}}}}},
    {"data": {"name": "fd"}, "mark": {"type": "point", "filled": true, "size": 14, "opacity": 1, "clip": true},
     "encoding": {"color": {"datum": "Filtered Data Samples", "type": "nominal"}}},
    {"data": {"name": "th"}, "mark": {"type": "line", "strokeWidth": 3, "strokeDash": [11, 7], "clip": true},
     "encoding": {"color": {"datum": "Threshold", "type": "nominal"}}}
  ]
},
{
  "width": 820, "height": 304,
  "title": "(b) Estimated Modulo Folding Times and Signs",
  "encoding": {
    "x": {"field": "t", "type": "quantitative", "scale": {"domain": [0, 0.0498], "nice": false, "zero": false}, "axis": {"title": "Time (s)", "titlePadding": 4, "values": [0,0.005,0.01,0.015,0.02,0.025,0.03,0.035,0.04,0.045], "labelExpr": "'' + datum.value"}},
    "y": {"field": "v", "type": "quantitative", "scale": {"domain": [-3.08, 3.12], "nice": false, "zero": false}, "axis": {"title": null, "values": [-3,-2,-1,0,1,2,3], "labelExpr": "'' + datum.value"}}
  },
  "layer": [
    {"data": {"name": "orig"}, "mark": {"type": "line", "interpolate": "step-after", "strokeWidth": 2.5, "clip": true},
     "encoding": {"color": {"datum": "Original Folds", "type": "nominal",
       "scale": {"domain": ["Original Folds", "Estimated Folds"], "range": ["#ff0000", "#000000"]},
       "legend": {"orient": "none", "legendX": 628.5, "legendY": 14.6, "title": null, "symbolType": "stroke", "symbolSize": 1521, "symbolStrokeWidth": 3, "labelOffset": 2.1, "clipHeight": 19, "rowPadding": 6,
         "encode": {"symbols": {"update": {
           "shape": {"value": "stroke"},
           "fill": {"value": "transparent"},
           "stroke": {"signal": "datum.value === 'Estimated Folds' ? '#000000' : '#ff0000'"},
           "strokeDash": {"signal": "datum.value === 'Estimated Folds' ? [10, 7] : [1, 0]"},
           "strokeWidth": {"value": 3},
           "opacity": {"value": 1}}}}}}}},
    {"data": {"name": "est"}, "mark": {"type": "line", "interpolate": "step-after", "strokeWidth": 3, "strokeDash": [11, 8], "clip": true},
     "encoding": {"color": {"datum": "Estimated Folds", "type": "nominal"}}}
  ]
},
{
  "width": 820, "height": 324,
  "title": "(c) Input-Output Measurements of the MEDS Hardware Prototype",
  "encoding": {
    "x": {"field": "t", "type": "quantitative", "scale": {"domain": [0, 0.0498], "nice": false, "zero": false}, "axis": {"title": null, "values": [0,0.005,0.01,0.015,0.02,0.025,0.03,0.035,0.04,0.045], "labelExpr": "'' + datum.value"}},
    "y": {"field": "v", "type": "quantitative", "scale": {"domain": [-4.49, 4.51], "nice": false, "zero": false}, "axis": {"title": null, "values": [-4,-2,0,2,4], "labelExpr": "'' + datum.value"}}
  },
  "layer": [
    {"data": {"name": "asdm"}, "mark": {"type": "line", "interpolate": "step-after", "strokeWidth": 2.2, "clip": true},
     "encoding": {"color": {"datum": "ASDM Output", "type": "nominal",
       "scale": {"domain": ["Input", "Folded Input", "ASDM Output", "Proposed Recovery"], "range": ["#ff0000", "#1ab0f0", "#a6a6a6", "#000000"]},
       "legend": {"orient": "none", "legendX": 222.8, "legendY": 265.6, "columns": 2, "columnPadding": 4.6, "title": null, "symbolType": "stroke", "symbolSize": 1521, "symbolStrokeWidth": 3, "labelOffset": 1.8, "clipHeight": 19, "rowPadding": 6,
         "encode": {"symbols": {"update": {
           "shape": {"value": "stroke"},
           "fill": {"value": "transparent"},
           "stroke": {"signal": "datum.value === 'Input' ? '#ff0000' : (datum.value === 'ASDM Output' ? '#a6a6a6' : (datum.value === 'Folded Input' ? '#1ab0f0' : '#000000'))"},
           "strokeDash": {"signal": "datum.value === 'Proposed Recovery' ? [10, 7] : [1, 0]"},
           "strokeWidth": {"value": 3},
           "opacity": {"value": 1}}}}}}}},
    {"data": {"name": "sine"}, "mark": {"type": "line", "strokeWidth": 3, "clip": true},
     "encoding": {"color": {"datum": "Input", "type": "nominal"}}},
    {"data": {"name": "fold"}, "mark": {"type": "line", "strokeWidth": 2.5, "clip": true},
     "encoding": {"color": {"datum": "Folded Input", "type": "nominal"}}},
    {"data": {"name": "sine"}, "mark": {"type": "line", "strokeWidth": 3, "strokeDash": [11, 8], "clip": true},
     "encoding": {"color": {"datum": "Proposed Recovery", "type": "nominal"}}}
  ]
}
]
}
